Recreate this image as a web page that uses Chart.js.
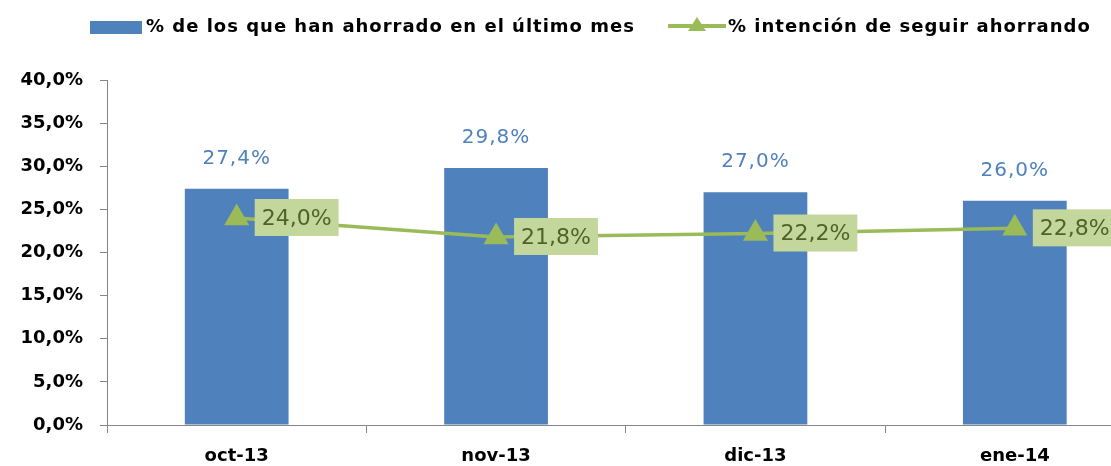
<!DOCTYPE html>
<html>
<head>
<meta charset="utf-8">
<script src="https://cdn.jsdelivr.net/npm/chart.js@4.4.1/dist/chart.umd.min.js"></script>
<style>
  html, body { margin: 0; padding: 0; background: #fff; overflow: hidden; }
  #wrap { width: 1111px; height: 466px; overflow: hidden; }
</style>
</head>
<body>
<div id="wrap"><canvas id="my-chart" width="1159" height="466"></canvas></div>
<script>
'use strict';

// ***** DATA *****

let months = ['oct-13', 'nov-13', 'dic-13', 'ene-14'];
let savedLastMonth = [27.4, 29.8, 27.0, 26.0];
let keepSaving = [24.0, 21.8, 22.2, 22.8];
let seriesNames = ['% de los que han ahorrado en el último mes', '% intención de seguir ahorrando'];
let yTicks = [0, 5, 10, 15, 20, 25, 30, 35, 40];

let blue = '#4F81BD';
let green = '#9BBB59';

function fmt(v) {
    return v.toFixed(1).replace('.', ',') + '%';
}

// ***** PLUGINS *****

let valueLabels = {
    id: 'valueLabels',
    afterDatasetsDraw(chart) {
        let c = chart.ctx;
        c.save();
        // bar labels
        let barMeta = chart.getDatasetMeta(0);
        c.letterSpacing = '1px';
        c.font = '20px "DejaVu Sans"';
        c.fillStyle = blue;
        c.textAlign = 'left';
        c.textBaseline = 'middle';
        barMeta.data.forEach((bar, i) => {
            let txt = fmt(savedLastMonth[i]);
            let w = c.measureText(txt).width;
            c.fillText(txt, bar.x - w / 2, bar.y - 30);
        });
        // line labels in boxes
        let lineMeta = chart.getDatasetMeta(1);
        c.letterSpacing = '0px';
        c.font = '22px "DejaVu Sans"';
        lineMeta.data.forEach((pt, i) => {
            let txt = fmt(keepSaving[i]);
            let w = c.measureText(txt).width + 14;
            c.fillStyle = '#C3D69B';
            c.fillRect(pt.x + 18, pt.y - 19, w, 37);
            c.fillStyle = '#4F6228';
            c.fillText(txt, pt.x + 25, pt.y + 1);
        });
        c.restore();
    }
};

let customLegend = {
    id: 'customLegend',
    afterDraw(chart) {
        let c = chart.ctx;
        c.save();
        c.letterSpacing = '1px';
        c.font = 'bold 18px "DejaVu Sans"';
        c.textBaseline = 'middle';
        c.textAlign = 'left';
        // bar item
        c.fillStyle = blue;
        c.fillRect(90, 21, 52, 13);
        c.fillStyle = '#000';
        c.fillText(seriesNames[0], 146, 27);
        // line item
        c.strokeStyle = green;
        c.lineWidth = 4;
        c.beginPath();
        c.moveTo(668, 26);
        c.lineTo(726, 26);
        c.stroke();
        c.fillStyle = green;
        c.beginPath();
        c.moveTo(697, 17);
        c.lineTo(706, 31);
        c.lineTo(688, 31);
        c.closePath();
        c.fill();
        c.fillStyle = '#000';
        c.fillText(seriesNames[1], 728, 27);
        c.restore();
    }
};

// ***** CHART *****

let ctx = document.getElementById('my-chart');

let chartObj = {
    type: 'bar',
    data: {
        labels: months,
        datasets: [{
            label: seriesNames[0],
            data: savedLastMonth,
            backgroundColor: blue,
            categoryPercentage: 1,
            barPercentage: 0.4,
            order: 1
        },
        {
            type: 'line',
            label: seriesNames[1],
            data: keepSaving,
            borderColor: green,
            backgroundColor: green,
            borderWidth: 3.5,
            pointStyle: 'triangle',
            pointRadius: 11,
            pointHoverRadius: 11,
            order: 0
        }]
    },
    options: {
        responsive: false,
        animation: false,
        layout: { padding: { top: 80, left: 0, right: 0, bottom: 0 } },
        plugins: {
            legend: { display: false },
            tooltip: { enabled: false }
        },
        scales: {
            x: {
                afterFit(scale) { scale.height = 41; },
                grid: { drawOnChartArea: false, tickLength: 8, color: '#868686', offset: true },
                border: { color: '#868686' },
                ticks: {
                    padding: 13,
                    color: '#000',
                    font: { family: 'DejaVu Sans', size: 18, weight: 'bold' }
                }
            },
            y: {
                min: 0,
                max: 40,
                afterFit(scale) { scale.width = 107; },
                afterBuildTicks(scale) { scale.ticks = yTicks.map(v => ({ value: v })); },
                grid: { drawOnChartArea: false, tickLength: 7, color: '#868686' },
                border: { color: '#868686' },
                ticks: {
                    padding: 17,
                    color: '#000',
                    font: { family: 'DejaVu Sans', size: 18, weight: 'bold' },
                    callback: v => fmt(v)
                }
            }
        }
    },
    plugins: [valueLabels, customLegend]
};

new Chart(ctx, chartObj);
</script>
</body>
</html>
